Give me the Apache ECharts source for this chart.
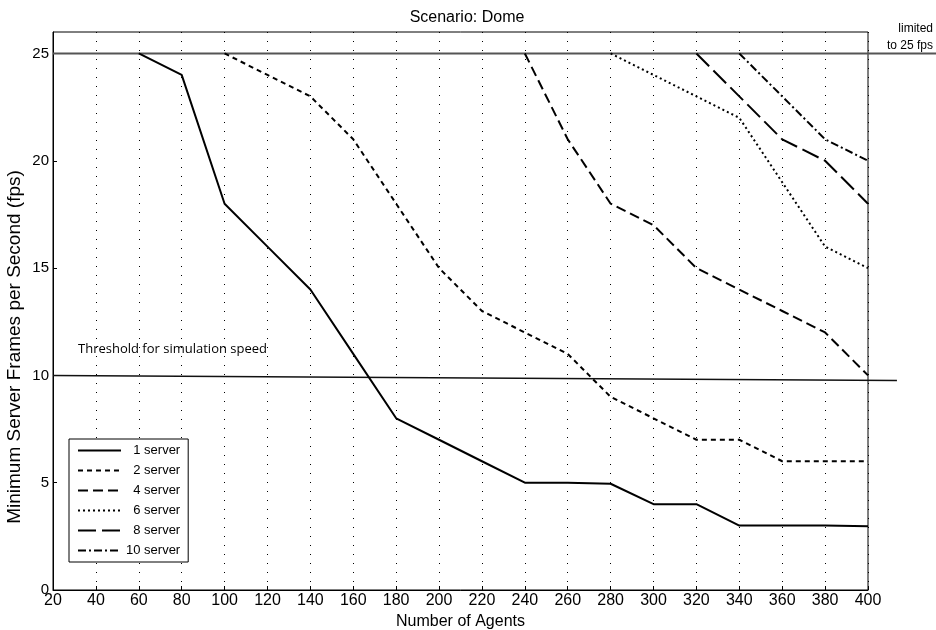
<!DOCTYPE html>
<html><head><meta charset="utf-8">
<script src="https://cdn.jsdelivr.net/npm/echarts@6/dist/echarts.min.js"></script>
<style>html,body{margin:0;padding:0;background:#fff}#c{width:936px;height:630px}</style>
</head><body><div id="c"></div>
<script>
const agents1 = [60,80,100,120,140,160,180,200,220,240,260,280,300,320,340,360,380,400];
const fps1    = [25,24,18,16,14,11,8,7,6,5,5,4.95,4,4,3,3,3,2.97];
const agents2 = [100,120,140,160,180,200,220,240,260,280,300,320,340,360,380,400];
const fps2    = [25,24,23,21,18,15,13,12,11,9,8,7,7,6,6,6];
const agents4 = [240,260,280,300,320,340,360,380,400];
const fps4    = [25,21,18,17,15,14,13,12,10];
const agents6 = [280,300,320,340,360,380,400];
const fps6    = [25,24,23,22,19,16,15];
const agents8 = [320,340,360,380,400];
const fps8    = [25,23,21,20,18];
const agents10 = [340,360,380,400];
const fps10    = [25,23,21,20];
const limitLine = [[20,25],[432,25]];
const thresholdLine = [[20,10],[413.5,9.76]];
const xTicks = {min:20, max:400, interval:20};
const yTicks = {min:0, max:26, interval:5};

const pair = (xs, ys) => xs.map((x,i)=>[x, ys[i]]);
const font = 'Liberation Sans, Arial, sans-serif';
const mk = (name, xs, ys, type) => ({
  name, type:'line', data: pair(xs, ys), symbol:'none', z:5,
  itemStyle:{color:'#000'},
  lineStyle:{color:'#000', width:2, type: type}
});

const chart = echarts.init(document.getElementById('c'));
chart.setOption({
  animation:false,
  backgroundColor:'#fff',
  textStyle:{fontFamily:font},
  title:{text:'Scenario: Dome', left:462, top:5, textAlign:'center',
    textStyle:{fontFamily:font, fontSize:16, fontWeight:'normal', color:'#000'}},
  grid:{left:53, right:68, top:32, bottom:40, outerBoundsMode:'none', containLabel:false,
    show:true, borderColor:'#000', borderWidth:1, backgroundColor:'transparent'},
  xAxis:{type:'value', min:xTicks.min, max:xTicks.max, interval:xTicks.interval,
    name:'Number of Agents', nameLocation:'middle', nameGap:22,
    nameTextStyle:{fontFamily:font, fontSize:16, color:'#000'},
    axisLine:{lineStyle:{color:'#000', width:1}},
    axisTick:{inside:true, length:4, lineStyle:{color:'#000'}},
    axisLabel:{fontFamily:font, fontSize:16, color:'#000', margin:3},
    splitLine:{show:true, lineStyle:{color:'#000', width:1, type:[1,8]}}},
  yAxis:{type:'value', min:yTicks.min, max:yTicks.max, interval:yTicks.interval,
    axisLine:{show:true, lineStyle:{color:'#000', width:1}},
    axisTick:{show:true, inside:true, length:4, lineStyle:{color:'#000'}},
    axisLabel:{fontFamily:font, fontSize:15, color:'#000', margin:4, showMaxLabel:false,
      formatter: v => (v % 5 === 0 ? String(v) : '')},
    splitLine:{show:false}},
  legend:{orient:'vertical', left:69, top:439, itemWidth:43, itemHeight:10, itemGap:7,
    padding:[5,8,5,8], backgroundColor:'#fff', borderColor:'#000', borderWidth:1, borderRadius:0,
    itemStyle:{opacity:0},
    data:['1 server','2 server','4 server','6 server','8 server','10 server'],
    formatter: n => (n.length < 9 ? '\u2007' + n : n),
    textStyle:{fontFamily:font, fontSize:13, color:'#000'}},
  series:[
    mk('1 server', agents1, fps1, 'solid'),
    mk('2 server', agents2, fps2, [5,4]),
    mk('4 server', agents4, fps4, [10,5]),
    mk('6 server', agents6, fps6, [2,3]),
    mk('8 server', agents8, fps8, [18,6]),
    mk('10 server', agents10, fps10, [8,3,2,3])
  ]
});

const toPx = p => chart.convertToPixel({gridIndex:0}, p);
const l0 = toPx(limitLine[0]), l1 = toPx(limitLine[1]);
const t0 = toPx(thresholdLine[0]), t1 = toPx(thresholdLine[1]);
chart.setOption({
  graphic:[
    {type:'line', z:3, shape:{x1:l0[0], y1:l0[1], x2:l1[0], y2:l1[1]}, style:{stroke:'#555', lineWidth:2}},
    {type:'line', z:3, shape:{x1:t0[0], y1:t0[1], x2:t1[0], y2:t1[1]}, style:{stroke:'#111', lineWidth:1.5}},
    {type:'text', x:933, y:20, style:{text:'limited\nto 25 fps', align:'right', fontFamily:font, fontSize:12, lineHeight:17, fill:'#000'}},
    {type:'text', x:78, y:343, style:{text:'Threshold for simulation speed', fontFamily:'Open Sans, sans-serif', fontSize:13, fill:'#000'}},
    {type:'text', x:15, y:347, rotation:Math.PI/2, style:{text:'Minimum Server Frames per Second (fps)', align:'center', verticalAlign:'middle', fontFamily:font, fontSize:19, fill:'#000'}}
  ]
});
</script></body></html>
